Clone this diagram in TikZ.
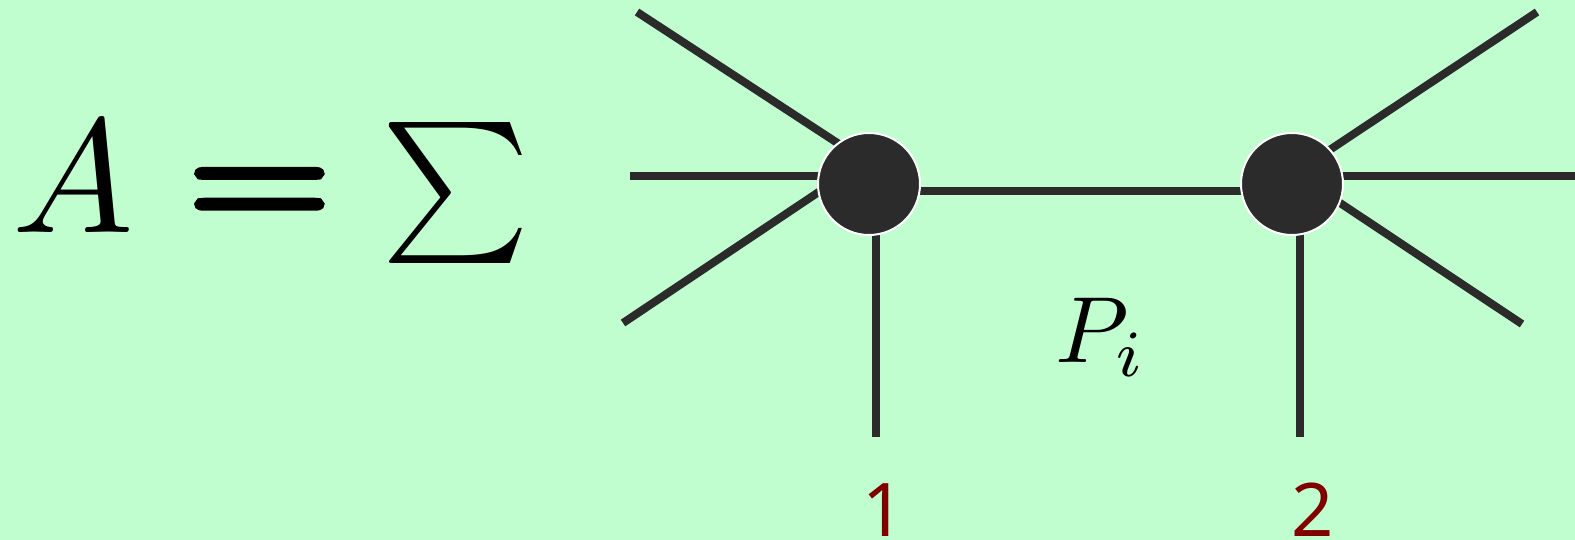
\documentclass[tikz,border=0pt]{standalone}
\usepackage{graphicx}
\usepackage{fontspec}
\newfontfamily\labfont{Noto Sans}
\newfontfamily\eqfont[FakeBold=4]{Latin Modern Roman}
\pgfdeclarelayer{bg}
\pgfdeclarelayer{background}
\pgfsetlayers{bg,background,main}
\definecolor{bgcol}{RGB}{193,254,207}
\definecolor{ink}{RGB}{43,43,43}
\definecolor{labred}{RGB}{128,0,0}
\tikzset{
  vertex/.style={circle, fill=ink, draw=white, line width=1pt, minimum size=51pt, inner sep=0pt},
  edge/.style={draw=ink, line width=4pt},
  lab/.style={text=labred, font=\labfont\fontsize{37}{40}\selectfont, inner sep=0pt, text depth=0pt, anchor=base},
  mathtxt/.style={inner sep=0pt}
}
\begin{document}
\begin{tikzpicture}[x=0.5pt,y=-0.5pt]
\begin{pgfonlayer}{bg}
\fill[bgcol] (0,0) rectangle (1575,540);
\end{pgfonlayer}
\useasboundingbox (0,0) rectangle (1575,540);
% formula
\node[mathtxt, anchor=base west] (A) at (12,233) {\scalebox{8.1}{$A$}};
\node[mathtxt, anchor=base] (eq) at (259.5,232) {\eqfont\fontsize{97.5}{100}\selectfont\scalebox{1}[0.887]{=}};
\node[mathtxt, anchor=base, text height=35pt, text depth=0pt] (sum) at (456,228) {\scalebox{7.05}{$\textstyle\sum$}};
% vertices
\node[vertex] (v1) at (869,184) {};
\node[vertex] (v2) at (1292,184) {};
% free ends
\coordinate (ul) at (637,12);
\coordinate (l) at (630,176);
\coordinate (ll) at (623,323);
\coordinate (b1) at (876,437);
\coordinate (ur) at (1537,12);
\coordinate (r) at (1575,176);
\coordinate (lr) at (1522,324);
\coordinate (b2) at (1299.5,437);
\begin{pgfonlayer}{background}
\draw[edge] (ul) -- ([shift={(-4,-23)}]v1.center);
\draw[edge] (ll) -- ([shift={(-4,-23)}]v1.center);
\draw[edge] (l) -- (l -| v1.center);
\draw[edge] ([shift={(7,0)}]v1.center) -- (b1);
\draw[edge] ([shift={(0,7)}]v1.center) -- ([shift={(0,7)}]v2.center);
\draw[edge] (ur) -- ([shift={(3,-11)}]v2.center);
\draw[edge] (lr) -- ([shift={(3,-11)}]v2.center);
\draw[edge] (r) -- (r -| v2.center);
\draw[edge] ([shift={(7.5,0)}]v2.center) -- (b2);
\end{pgfonlayer}
% labels
\node[mathtxt, anchor=base west] (p) at (1055,362) {\scalebox{4.7}{$P_i$}};
\node[lab] (n1) at (884,536) {1};
\node[lab] (n2) at (1313,536) {2};
\end{tikzpicture}
\end{document}
